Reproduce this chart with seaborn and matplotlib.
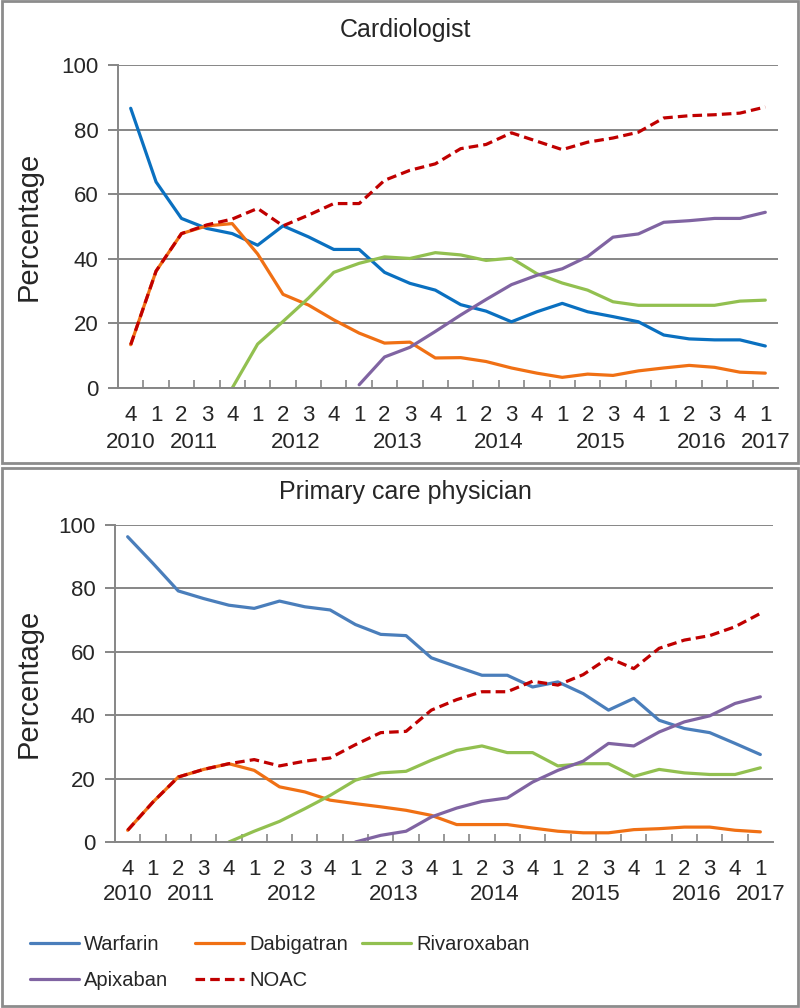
import matplotlib
matplotlib.use('Agg')
import matplotlib.pyplot as plt
import matplotlib.transforms as mtransforms
from matplotlib.patches import Rectangle
from matplotlib.lines import Line2D
import numpy as np
import pandas as pd
import seaborn as sns

nan = np.nan

# quarters from 2010 Q4 to 2017 Q1
quarters = [4, 1, 2, 3, 4, 1, 2, 3, 4, 1, 2, 3, 4, 1, 2, 3, 4, 1, 2, 3, 4, 1, 2, 3, 4, 1]
years = [2010, 2011, 2011, 2011, 2011, 2012, 2012, 2012, 2012, 2013, 2013, 2013, 2013,
         2014, 2014, 2014, 2014, 2015, 2015, 2015, 2015, 2016, 2016, 2016, 2016, 2017]

drugs = ['Warfarin', 'Dabigatran', 'Rivaroxaban', 'Apixaban', 'NOAC']

# Cardiologist
card_warfarin = [86.6, 63.8, 52.5, 49.4, 47.8, 44.2, 50.2, 46.8, 42.9, 42.9, 35.8, 32.4, 30.3,
                 25.8, 23.8, 20.5, 23.6, 26.2, 23.6, 22.1, 20.5, 16.4, 15.2, 14.9, 14.9, 13.0]
card_dabigatran = [13.4, 36.2, 47.8, 50.2, 50.9, 41.5, 29.0, 25.7, 21.1, 17.0, 13.9, 14.2, 9.3,
                   9.4, 8.2, 6.2, 4.6, 3.3, 4.3, 3.9, 5.3, 6.2, 7.0, 6.4, 4.9, 4.6]
card_rivaroxaban = [nan, nan, nan, nan, 0.0, 13.6, 20.6, 27.8, 35.8, 38.6, 40.6, 40.1, 41.9,
                    41.2, 39.5, 40.2, 35.4, 32.5, 30.3, 26.7, 25.6, 25.6, 25.6, 25.6, 26.9, 27.2]
card_apixaban = [nan, nan, nan, nan, nan, nan, nan, nan, nan, 1.0, 9.6, 12.6, 17.5,
                 22.6, 27.4, 32.0, 34.9, 36.9, 40.7, 46.7, 47.7, 51.3, 51.8, 52.5, 52.5, 54.4]
card_noac = [13.4, 36.2, 47.8, 50.5, 52.3, 55.6, 50.2, 53.5, 57.1, 57.1, 64.3, 67.4, 69.4,
             74.1, 75.4, 79.0, 76.4, 73.8, 76.1, 77.4, 79.2, 83.6, 84.3, 84.6, 85.1, 87.0]

# Primary care physician
pcp_warfarin = [96.3, 87.9, 79.2, 76.8, 74.7, 73.7, 76.0, 74.2, 73.2, 68.6, 65.5, 65.1, 58.1,
                55.3, 52.6, 52.6, 48.9, 50.5, 46.8, 41.6, 45.3, 38.4, 35.8, 34.5, 31.1, 27.6]
pcp_dabigatran = [3.7, 12.6, 20.5, 22.9, 24.7, 22.6, 17.4, 15.8, 13.2, 12.1, 11.1, 10.0, 8.4,
                  5.5, 5.5, 5.5, 4.4, 3.4, 2.9, 2.9, 3.9, 4.2, 4.7, 4.7, 3.7, 3.2]
pcp_rivaroxaban = [nan, nan, nan, nan, 0.0, 3.4, 6.5, 10.5, 14.7, 19.5, 21.8, 22.3, 25.8,
                   28.9, 30.3, 28.2, 28.2, 24.0, 24.7, 24.7, 20.7, 22.9, 21.8, 21.3, 21.3, 23.4]
pcp_apixaban = [nan, nan, nan, nan, nan, nan, nan, nan, nan, 0.0, 2.1, 3.4, 7.9,
                10.7, 12.8, 13.9, 18.9, 22.6, 25.5, 31.1, 30.3, 34.7, 37.9, 39.8, 43.7, 45.8]
pcp_noac = [3.7, 12.6, 20.5, 22.9, 24.7, 26.0, 24.0, 25.5, 26.5, 30.7, 34.5, 34.9, 41.6,
            44.9, 47.4, 47.4, 50.7, 49.5, 52.8, 58.1, 54.7, 61.1, 63.7, 65.1, 67.9, 72.1]

colors = {'Warfarin': '#0A70C0', 'Dabigatran': '#F07014', 'Rivaroxaban': '#92C050',
          'Apixaban': '#8064A2', 'NOAC': '#C00000'}
colors_pcp = {'Warfarin': '#4A7EBB', 'Dabigatran': '#F07014', 'Rivaroxaban': '#92C050',
              'Apixaban': '#8064A2', 'NOAC': '#C00000'}

sns.set_style('white')
plt.rcParams['font.family'] = ['Liberation Sans', 'DejaVu Sans']

NOAC_DASH = (0, (3.0, 1.6))


def long_df(series):
    frames = []
    for name, vals in zip(drugs, series):
        frames.append(pd.DataFrame({'idx': range(len(vals)), 'value': vals, 'drug': name}))
    return pd.concat(frames, ignore_index=True)


fig = plt.figure(figsize=(8, 10.08), dpi=100)

# panel frames
fig.patches.append(Rectangle((0.002, 1 - 463 / 1008), 0.996, 462 / 1008, transform=fig.transFigure,
                             fill=False, edgecolor='#8c8c8c', linewidth=2))
fig.patches.append(Rectangle((0.002, 0.002), 0.996, 1 - 466 / 1008 - 0.004, transform=fig.transFigure,
                             fill=False, edgecolor='#8c8c8c', linewidth=2))

# (title, plot box in px, title y, quarter-label pad, year-label y, series, palette)
panels = [
    ('Cardiologist', [118, 778, 65, 388], 30, 12, 442,
     [card_warfarin, card_dabigatran, card_rivaroxaban, card_apixaban, card_noac], colors),
    ('Primary care physician', [115, 773, 525, 842], 492, 12, 894,
     [pcp_warfarin, pcp_dabigatran, pcp_rivaroxaban, pcp_apixaban, pcp_noac], colors_pcp),
]

for title, (x0, x1, y0, y1), ty, qpad, yy, series, pal in panels:
    ax = fig.add_axes([x0 / 800, 1 - y1 / 1008, (x1 - x0) / 800, (y1 - y0) / 1008])
    df = long_df(series)
    for name in drugs:
        sub = df[df['drug'] == name]
        sns.lineplot(data=sub, x='idx', y='value', ax=ax, color=pal[name],
                     linewidth=2.3, legend=False)
        if name == 'NOAC':
            ax.lines[-1].set_linestyle(NOAC_DASH)

    n = len(quarters)
    ax.set_xlim(-0.5, n - 0.5)
    ax.set_ylim(0, 100)
    ax.set_yticks([0, 20, 40, 60, 80, 100])
    ax.yaxis.grid(True, color='#868686', linewidth=1.4)
    ax.set_axisbelow(True)
    for s in ['top', 'right']:
        ax.spines[s].set_visible(False)
    for s in ['left', 'bottom']:
        ax.spines[s].set_color('#868686')
        ax.spines[s].set_linewidth(1.4)
    ax.tick_params(axis='y', which='major', direction='out', length=7, width=1.4,
                   color='#868686', labelsize=16, pad=7, left=True)
    # quarter labels at category centers, boundary ticks as minor
    ax.set_xticks(range(n))
    ax.set_xticklabels([str(q) for q in quarters])
    ax.tick_params(axis='x', which='major', length=0, labelsize=16, pad=qpad)
    ax.set_xticks(np.arange(0.5, n - 0.5, 1), minor=True)
    ax.tick_params(axis='x', which='minor', direction='in', length=6, width=1.2,
                   color='#868686', bottom=True)
    ax.set_xlabel('')
    ax.set_ylabel('Percentage', fontsize=21)
    ax.yaxis.set_label_coords((43 - x0) / (x1 - x0), 0.5)

    # year labels centered under each year's quarters
    trans = mtransforms.blended_transform_factory(ax.transData, ax.transAxes)
    for yr in sorted(set(years)):
        pos = [i for i, v in enumerate(years) if v == yr]
        ax.text(np.mean(pos), -(yy - y1) / (y1 - y0), str(yr), transform=trans,
                ha='center', va='center', fontsize=16)

    fig.text(405 / 800, 1 - ty / 1008, title, ha='center', va='center', fontsize=18)

# legend, laid out row by row in three columns
legend_cols = [(['Warfarin', 'Apixaban'], 30), (['Dabigatran', 'NOAC'], 195), (['Rivaroxaban'], 362)]
for names, lx in legend_cols:
    handles = [Line2D([0], [0], color=colors_pcp[d], linewidth=2.3,
                      linestyle=NOAC_DASH if d == 'NOAC' else '-') for d in names]
    fig.legend(handles, names, loc='upper left', bbox_to_anchor=(lx / 800, 1 - 935 / 1008),
               frameon=False, fontsize=14.5, handlelength=2.45, handletextpad=0.25,
               labelspacing=0.85, borderaxespad=0, borderpad=0)

fig.savefig('out.png', dpi=100)
